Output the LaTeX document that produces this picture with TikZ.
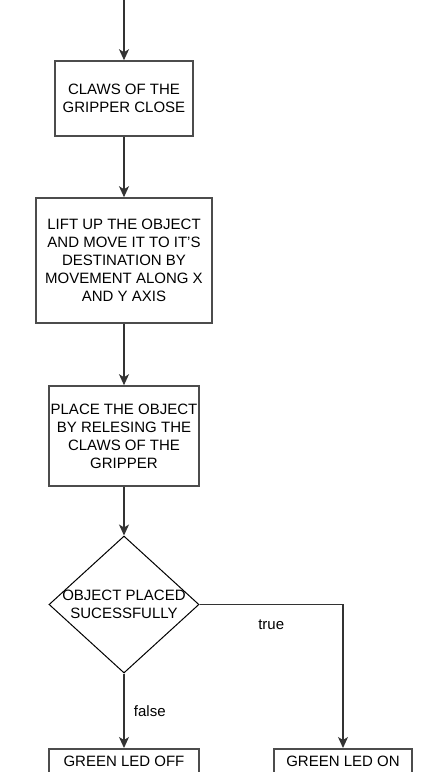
\documentclass[tikz,border=0pt]{standalone}
\usepackage{fontspec}
\setmainfont{Liberation Sans}
\usetikzlibrary{shapes.geometric,arrows.meta}

\begin{document}
\begin{tikzpicture}[x=1pt,y=-1pt,
  box/.style={draw=black!70,line width=1.6pt,inner sep=0pt,align=center,font=\fontsize{15}{18}\selectfont},
  flow/.style={draw=black!80,line width=1.3pt,-{Stealth[length=11pt,width=10pt,inset=3pt]}},
  lbl/.style={font=\fontsize{15}{18}\selectfont}]
\clip (0,0) rectangle (427,772);
% process boxes
\coordinate (start) at (124,0);
\node[box,minimum width=138pt,minimum height=75pt] (claws) at (124,98.5) {CLAWS OF THE\\GRIPPER CLOSE};
\node[box,minimum width=176pt,minimum height=125pt] (lift) at (124,260.5) {LIFT UP THE OBJECT\\AND MOVE IT TO IT'S\\DESTINATION BY\\MOVEMENT ALONG X\\AND Y AXIS};
\node[box,minimum width=150pt,minimum height=100pt] (place) at (124,436) {PLACE THE OBJECT\\BY RELESING THE\\CLAWS OF THE\\GRIPPER};
% decision
\node[draw,diamond,line width=1pt,inner sep=0pt,minimum width=150pt,minimum height=137pt] (dec) at (124,604.5) {};
\node[lbl,align=center] (dectext) at (dec.center) {OBJECT PLACED\\SUCESSFULLY};
\node[box,minimum width=150pt,minimum height=40pt,anchor=north] (ledoff) at (124,748) {};
\node[box,minimum width=138pt,minimum height=40pt,anchor=north] (ledon) at (343,748) {};
\node[lbl] (offtext) at (124,761) {GREEN LED OFF};
\node[lbl] (ontext) at (343,761) {GREEN LED ON};
% connectors
\draw[flow] (start) -- (claws);
\draw[flow] (claws) -- (lift);
\draw[flow] (lift) -- (place);
\draw[flow] (place) -- (dec);
\draw[flow] (dec.south) -- (ledoff) node[lbl,midway,right=6pt] {false};
\draw[flow] (dec.east) -| (ledon) node[lbl,pos=0.25,below=11pt] {true};
\end{tikzpicture}
\end{document}
